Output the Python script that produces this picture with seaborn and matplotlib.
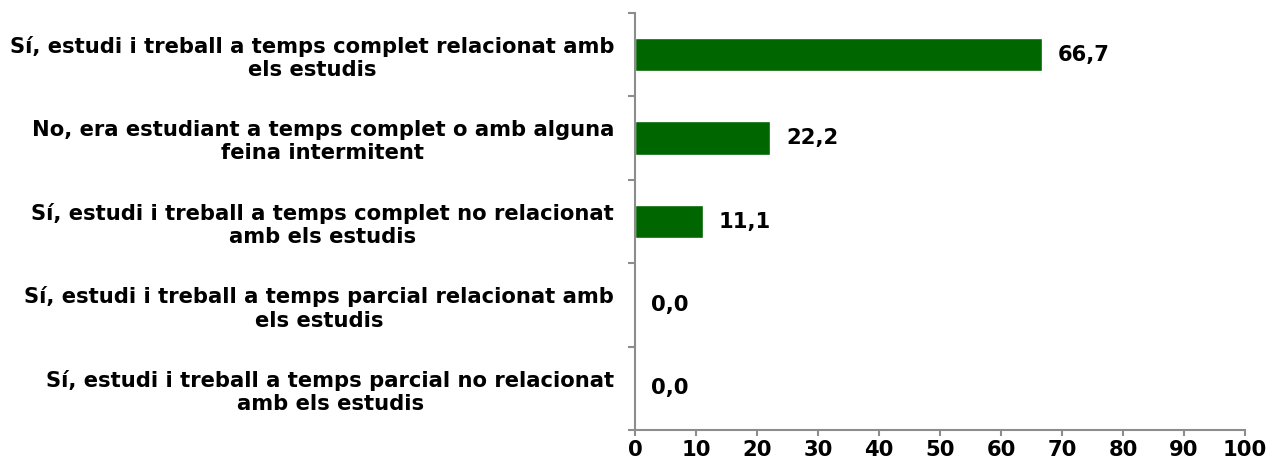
import seaborn as sns
import matplotlib.pyplot as plt
import pandas as pd

categories = [
    "Sí, estudi i treball a temps complet relacionat amb\nels estudis",
    "No, era estudiant a temps complet o amb alguna\nfeina intermitent",
    "Sí, estudi i treball a temps complet no relacionat\namb els estudis",
    "Sí, estudi i treball a temps parcial relacionat amb\nels estudis",
    "Sí, estudi i treball a temps parcial no relacionat\namb els estudis",
]
values = [66.7, 22.2, 11.1, 0.0, 0.0]

df = pd.DataFrame({"cat": categories, "val": values})

sns.set_style("white")
plt.rcParams["font.family"] = ["DejaVu Sans"]
plt.rcParams["text.color"] = "black"

fs = 15.2

fig = plt.figure(figsize=(12.72, 4.65), dpi=100)
ax = fig.add_axes([0.4992, 0.0753, 0.4796, 0.8967])

sns.barplot(data=df, x="val", y="cat", color="#006600", width=0.4,
            saturation=1, ax=ax, orient="h")

for i, v in enumerate(values):
    ax.text(v + 2.6, i, f"{v:.1f}".replace(".", ","), va="center", ha="left",
            fontsize=fs, fontweight="bold", color="black")

ax.set_xlim(0, 100)
ax.set_ylim(4.5, -0.5)
ax.set_xticks(range(0, 101, 10))
ax.set_xlabel("")
ax.set_ylabel("")

# category separators as ticks on the left axis
ax.set_yticks([i - 0.5 for i in range(6)], minor=True)
ax.tick_params(axis="y", which="major", length=0, pad=15, labelcolor="black")
ax.tick_params(axis="y", which="minor", length=5, color="#8c8c8c", width=1.5, direction="out")
ax.tick_params(axis="x", length=4.5, color="#8c8c8c", width=1.5, direction="out", pad=3,
               labelcolor="black")
ax.yaxis.set_ticks_position("left")
ax.xaxis.set_ticks_position("bottom")

for lab in ax.get_yticklabels():
    lab.set_fontweight("bold")
    lab.set_fontsize(fs)
    lab.set_multialignment("center")
    lab.set_linespacing(1.2)
for lab in ax.get_xticklabels():
    lab.set_fontweight("bold")
    lab.set_fontsize(fs)

for side in ["top", "right"]:
    ax.spines[side].set_visible(False)
for side in ["left", "bottom"]:
    ax.spines[side].set_color("#8c8c8c")
    ax.spines[side].set_linewidth(1.5)

fig.savefig("out.png", dpi=100)
